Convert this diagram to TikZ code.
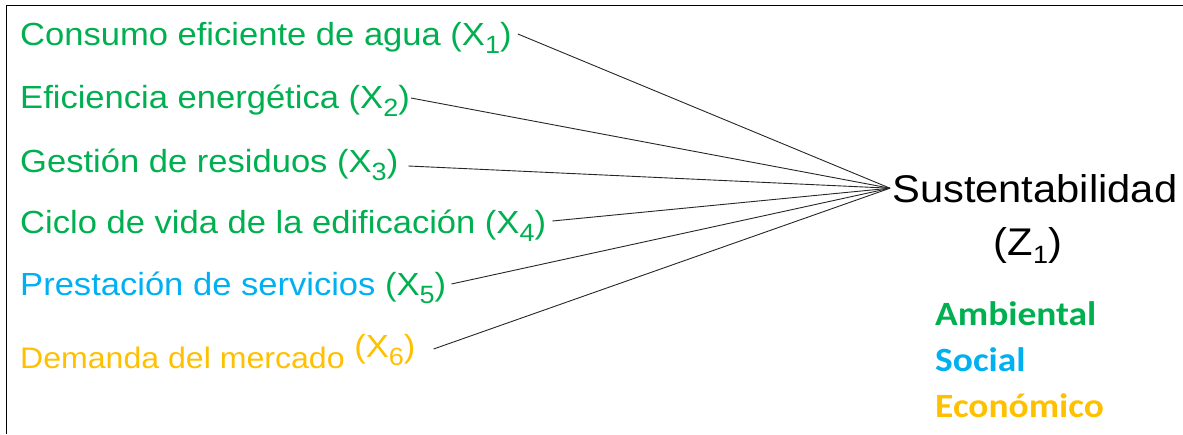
\documentclass[tikz,border=0pt]{standalone}
\usepackage{fontspec}
\setmainfont[FakeStretch=1.08]{Liberation Sans}
\newfontfamily\calibri[FakeStretch=1.1]{Carlito}
\definecolor{envgreen}{HTML}{00B050}
\definecolor{socblue}{HTML}{00B0F0}
\definecolor{ecogold}{HTML}{FFC000}
\newcommand\subidx[1]{\raisebox{-8pt}{\fontsize{25}{25}\selectfont #1}}
\begin{document}
\begin{tikzpicture}[x=1pt,y=-1pt,
  factor/.style={anchor=base west, inner sep=0pt, font=\fontsize{32}{38}\selectfont},
  dimension/.style={anchor=base west, inner sep=0pt, font=\calibri\bfseries\fontsize{34}{40}\selectfont},
  link/.style={draw=black!85, line width=0.9pt}]
\useasboundingbox (0,0) rectangle (1183,434);
\draw[line width=1.6pt] (6.5,434) -- (6.5,5.5) -- (1183,5.5);
\node[factor, text=envgreen] (x1) at (20,45) {Consumo eficiente de agua (X\subidx{1})};
\node[factor, text=envgreen] (x2) at (20,108) {Eficiencia energética (X\subidx{2})};
\node[factor, text=envgreen] (x3) at (20,172) {Gestión de residuos (X\subidx{3})};
\node[factor, text=envgreen] (x4) at (20,233) {Ciclo de vida de la edificación (X\subidx{4})};
\node[factor, text=envgreen] (x5) at (20,295) {\textcolor{socblue}{Prestación de servicios} (X\subidx{5})};
\node[factor, text=ecogold] (x6) at (20,368) {{\fontsize{29.7}{36}\selectfont Demanda del mercado} \raisebox{11pt}{(X\subidx{6})}};
\node[anchor=base west, inner sep=0pt, font=\fontsize{38.6}{44}\selectfont] (z) at (892,202) {Sustentabilidad};
\node[anchor=base, inner sep=0pt, font=\fontsize{38.6}{44}\selectfont] (z1) at (1028,255) {(Z\subidx{1})};
\node[dimension, text=envgreen] (amb) at (935,325) {Ambiental};
\node[dimension, text=socblue] (soc) at (935,371) {Social};
\node[dimension, text=ecogold] (eco) at (935,417) {Económico};
\coordinate (hub) at ([xshift=-2pt]z.west);
\draw[link] ([xshift=6pt,yshift=11pt]x1.base east) -- (hub);
\draw[link] ([xshift=1pt,yshift=10pt]x2.base east) -- (hub);
\draw[link] ([xshift=10pt,yshift=6pt]x3.base east) -- (hub);
\draw[link] ([xshift=6pt,yshift=12pt]x4.base east) -- (hub);
\draw[link] ([xshift=5pt,yshift=11pt]x5.base east) -- (hub);
\draw[link] ([xshift=18pt,yshift=19pt]x6.base east) -- (hub);
\end{tikzpicture}
\end{document}
